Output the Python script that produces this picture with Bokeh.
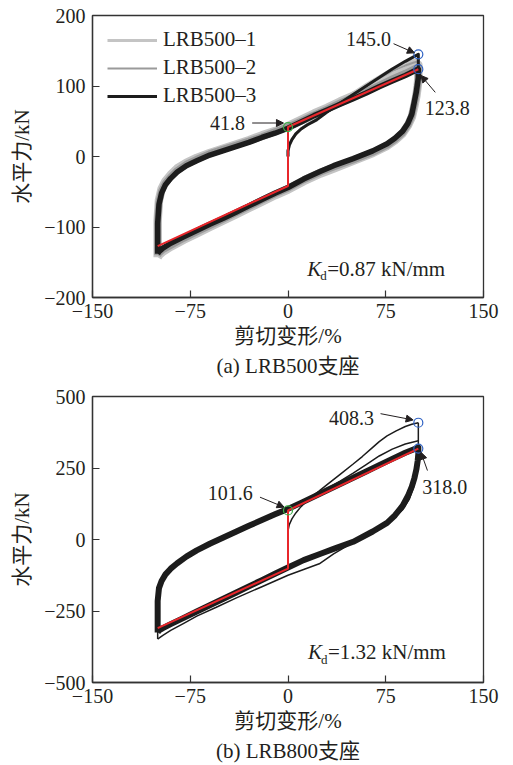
from bokeh.plotting import figure
from bokeh.layouts import column
from bokeh.models import (Range1d, FixedTicker, Legend, LegendItem, Label, Arrow,
                          NormalHead, Title)
from bokeh.embed import file_html
from bokeh.resources import INLINE

# ---------------- data ----------------
# shear strain (%) sampled along the loading (up) and unloading (down) branches
strain_up = [-100, -100, -99, -97, -94, -90, -85, -78, -70, -60, -50, -40, -30,
             -20, -10, 0, 10, 20, 30, 40, 50, 60, 70, 80, 90, 100]
strain_down = [100, 100, 99.5, 98.5, 97, 95, 92, 88, 82, 76, 65, 50, 35, 25, 12,
               0, -10, -20, -30, -40, -50, -60, -70, -80, -90, -96, -99, -100]

# LRB500 specimens, horizontal force (kN), stabilised loop
lrb500_1_up = [-143, -90, -62, -46, -35, -26, -17, -9, -2, 5, 11, 17, 23, 30, 36,
               43, 52, 61, 69, 78, 86, 95, 104, 113, 121, 130]
lrb500_1_down = [130, 110, 100, 86, 72, 56, 44, 33, 23, 15, 5, -6, -17, -24, -35,
                 -47, -55, -64, -73, -82, -91, -100, -109, -118, -128, -135, -140, -143]
lrb500_2_up = [-140, -92, -65, -49, -38, -29, -20, -11, -4, 4, 10, 16, 22, 28, 35,
               42, 50, 59, 67, 76, 84, 92, 101, 110, 118, 127]
lrb500_2_down = [127, 111, 102, 89, 75, 58, 45, 34, 24, 16, 6, -5, -15, -22, -33,
                 -45, -53, -62, -71, -80, -89, -98, -107, -116, -126, -132, -137, -140]
lrb500_3_up = [-138, -95, -68, -52, -40, -31, -22, -13, -6, 2, 8, 14, 20, 27, 33,
               40, 49, 58, 66, 74, 82, 90, 99, 107, 115, 124]
lrb500_3_down = [124, 112, 105, 92, 78, 60, 47, 36, 26, 18, 8, -3, -13, -21, -32,
                 -44, -52, -61, -70, -79, -88, -96, -105, -114, -123, -130, -135, -138]

# LRB500 first cycle of each specimen (virgin loading up to the first peak)
first_x = [0, 0, 1, 3, 6, 10, 15, 22, 30, 40, 50, 60, 70, 80, 90, 96, 100, 100]
lrb500_1_first = [0, 8, 16, 24, 32, 39, 46, 54, 65, 78, 90, 102, 113, 124, 132, 136,
                  138, 130]
lrb500_2_first = [0, 8, 16, 24, 32, 39, 45, 53, 64, 77, 89, 100, 111, 121, 129, 133,
                  135, 127]
lrb500_3_first = [0, 8, 16, 24, 32, 39, 45, 52, 63, 76, 88, 100, 112, 124, 135, 141,
                  145.0, 122]

lrb500_peak_first = 145.0
lrb500_peak_stable = 123.8
lrb500_qd = 41.8
lrb500_kd = 0.87

# LRB800 specimen, horizontal force (kN), stabilised loop
lrb800_up = [-325, -215, -170, -145, -122, -102, -83, -60, -38, -15, 6, 27, 48, 68,
             88, 107, 128, 150, 172, 194, 216, 238, 260, 282, 303, 322]
lrb800_down = [322, 300, 275, 245, 215, 185, 152, 118, 84, 58, 28, -8, -33, -50, -72,
               -98, -120, -142, -164, -186, -208, -230, -252, -274, -296, -310, -318, -325]

# LRB800 first cycle: virgin loading and first peak
lrb800_first_x = [0, 0, 1, 3, 6, 10, 16, 24, 30, 40, 50, 57, 65, 70, 76, 83, 90, 95, 100]
lrb800_first_f = [0, 30, 52, 72, 93, 115, 142, 170, 192, 228, 264, 290, 322, 342, 362,
                  380, 395, 403, 408.3]
# first unloading branch (outer envelope)
lrb800_first_down_x = [100, 100, 99.5, 99, 98, 96, 93, 88, 80, 70, 60, 50, 35, 24, 12,
                       0, -20, -40, -55, -70, -80, -90, -96, -99, -100]
lrb800_first_down_f = [408.3, 330, 290, 255, 215, 178, 140, 104, 70, 45, 20, -10, -50,
                       -85, -105, -125, -165, -205, -237, -268, -293, -318, -335, -345, -348]
# second loading branch
lrb800_second_up = [-348, -220, -172, -146, -123, -103, -84, -61, -39, -16, 5, 26, 47,
                    67, 87, 107, 129, 152, 178, 204, 232, 262, 292, 316, 334, 345]

lrb800_peak_first = 408.3
lrb800_peak_stable = 318.0
lrb800_qd = 101.6
lrb800_kd = 1.32

# bilinear model (red)
bilinear_x = [-100, 0, 0, 100]
lrb500_bilinear = [-127.0, -lrb500_qd, lrb500_qd, lrb500_peak_stable]
lrb800_bilinear = [-310.0, -lrb800_qd, lrb800_qd, lrb800_peak_stable]

x_ticks = [-150, -75, 0, 75, 150]
x_tick_labels = ["\u2212150", "\u221275", "0", "75", "150"]
y500_ticks = [-200, -100, 0, 100, 200]
y500_tick_labels = ["\u2212200", "\u2212100", "0", "100", "200"]
y800_ticks = [-500, -250, 0, 250, 500]
y800_tick_labels = ["\u2212500", "\u2212250", "0", "250", "500"]

# ---------------- styling ----------------
SERIF = "Liberation Serif, Noto Sans CJK SC"
INK = "#231f20"
RED = "#e8262b"
BLUE = "#2f62c4"
GREEN = "#3dae48"
C_LIGHT = "#c4c4c4"
C_MID = "#9a9a9a"
C_DARK = "#1c1c1c"


def make_axes(p, xt, xl, yt, yl, caption):
    p.xaxis.ticker = FixedTicker(ticks=xt)
    p.yaxis.ticker = FixedTicker(ticks=yt)
    p.xaxis.major_label_overrides = dict(zip(xt, xl))
    p.yaxis.major_label_overrides = dict(zip(yt, yl))
    for ax in (p.xaxis[0], p.yaxis[0]):
        ax.major_tick_in = 7
        ax.major_tick_out = 0
        ax.minor_tick_line_color = None
        ax.axis_line_color = "#333333"
        ax.axis_line_width = 1.3
        ax.major_tick_line_color = "#333333"
        ax.major_tick_line_width = 1.2
        ax.major_label_text_font = SERIF
        ax.major_label_text_font_size = "20px"
        ax.major_label_text_color = INK
        ax.axis_label_text_font = SERIF
        ax.axis_label_text_font_size = "21px"
        ax.axis_label_text_font_style = "normal"
        ax.axis_label_text_color = INK
    p.xaxis.major_label_standoff = 6
    p.yaxis.major_label_standoff = 7
    p.xaxis.axis_label = "剪切变形/%"
    p.yaxis.axis_label = "水平力/kN"
    p.xaxis.axis_label_standoff = 3
    p.yaxis.axis_label_standoff = 7
    p.xgrid.grid_line_color = None
    p.ygrid.grid_line_color = None
    p.outline_line_color = "#333333"
    p.outline_line_width = 1.3
    cap = Title(text=caption, align="center", text_font=SERIF, text_font_size="21px",
                text_font_style="normal", text_color=INK, standoff=2)
    p.add_layout(cap, "below")


def annotate(p, text, tx, ty, align, ax0, ay0, ax1, ay1):
    p.add_layout(Label(x=tx, y=ty, text=text, text_align=align, text_baseline="middle",
                       text_font="Liberation Serif", text_font_size="20px",
                       text_color=INK))
    p.add_layout(Arrow(x_start=ax0, y_start=ay0, x_end=ax1, y_end=ay1,
                       line_color=INK, line_width=1,
                       end=NormalHead(size=7, fill_color=INK, line_color=INK)))


def kd_label(p, x, y, kd):
    common = dict(text_font="Liberation Serif", text_color=INK, text_baseline="alphabetic")
    p.add_layout(Label(x=x, y=y, text="K", text_font_size="21px",
                       text_font_style="italic", **common))
    p.add_layout(Label(x=x, y=y, x_offset=13, y_offset=-7, text="d",
                       text_font_size="13px", **common))
    p.add_layout(Label(x=x, y=y, x_offset=20, text=f"={kd:.2f} kN/mm",
                       text_font_size="21px", **common))


# ---------------- (a) LRB500 ----------------
p1 = figure(width=513, height=380, output_backend="svg", toolbar_location=None,
            x_range=Range1d(-150, 150), y_range=Range1d(-200, 200),
            min_border_left=92, min_border_right=30, min_border_top=15,
            min_border_bottom=83, background_fill_color="white",
            border_fill_color="white")
make_axes(p1, x_ticks, x_tick_labels, y500_ticks, y500_tick_labels, "(a) LRB500支座")

p1.line(strain_up + strain_down, lrb500_1_up + lrb500_1_down, line_color=C_LIGHT,
        line_width=8.5, line_join="round")
first1 = p1.line(first_x, lrb500_1_first, line_color=C_LIGHT, line_width=3,
                 line_join="round")
p1.line(strain_up + strain_down, lrb500_2_up + lrb500_2_down, line_color=C_MID,
        line_width=7, line_join="round")
first2 = p1.line(first_x, lrb500_2_first, line_color=C_MID, line_width=2,
                 line_join="round")
p1.line(strain_up + strain_down, lrb500_3_up + lrb500_3_down, line_color=C_DARK,
        line_width=5.5, line_join="round")
first3 = p1.line(first_x, lrb500_3_first, line_color=C_DARK, line_width=3,
                 line_join="round")
p1.line(bilinear_x, lrb500_bilinear, line_color=RED, line_width=2)
p1.scatter([0], [lrb500_qd], marker="circle", size=9, fill_color=None,
           line_color=GREEN, line_width=1.2)
p1.scatter([100, 100], [lrb500_peak_first, lrb500_peak_stable], marker="circle",
           size=9, fill_color=None, line_color=BLUE, line_width=1.2)

legend = Legend(items=[LegendItem(label="LRB500\u20131", renderers=[first1]),
                       LegendItem(label="LRB500\u20132", renderers=[first2]),
                       LegendItem(label="LRB500\u20133", renderers=[first3])],
                location=(15, 189), glyph_width=50, glyph_height=20, label_height=20,
                label_standoff=6, spacing=3, padding=0, margin=0,
                border_line_color=None, background_fill_alpha=0,
                label_text_font="Liberation Serif", label_text_font_size="21px",
                label_text_color=INK)
p1.add_layout(legend)

annotate(p1, f"{lrb500_peak_first:.1f}", 79, 167, "right", 81, 160, 97, 147)
annotate(p1, f"{lrb500_peak_stable:.1f}", 105, 69, "left", 113, 91, 102, 115)
annotate(p1, f"{lrb500_qd:.1f}", -33, 47.5, "right", -27.5, 47.5, -3.5, 47.5)
kd_label(p1, 14.7, -159, lrb500_kd)

# ---------------- (b) LRB800 ----------------
p2 = figure(width=513, height=385, output_backend="svg", toolbar_location=None,
            x_range=Range1d(-150, 150), y_range=Range1d(-500, 500),
            min_border_left=92, min_border_right=28, min_border_top=16,
            min_border_bottom=83, background_fill_color="white",
            border_fill_color="white")
make_axes(p2, x_ticks, x_tick_labels, y800_ticks, y800_tick_labels, "(b) LRB800支座")

p2.line(lrb800_first_x, lrb800_first_f, line_color=C_DARK, line_width=1.5)
p2.line(lrb800_first_down_x, lrb800_first_down_f, line_color=C_DARK, line_width=1.5)
p2.line(strain_up, lrb800_second_up, line_color=C_DARK, line_width=1.5)
p2.line(strain_up + strain_down, lrb800_up + lrb800_down, line_color=C_DARK,
        line_width=6, line_join="round")
p2.line(bilinear_x, lrb800_bilinear, line_color=RED, line_width=2)
p2.scatter([0], [lrb800_qd], marker="circle", size=9, fill_color=None,
           line_color=GREEN, line_width=1.2)
p2.scatter([100, 100], [lrb800_peak_first, lrb800_peak_stable], marker="circle",
           size=9, fill_color=None, line_color=BLUE, line_width=1.2)

annotate(p2, f"{lrb800_peak_first:.1f}", 66, 425, "right", 71, 440, 96, 418)
annotate(p2, f"{lrb800_peak_stable:.1f}", 103, 184, "left", 107, 241, 102, 305)
annotate(p2, f"{lrb800_qd:.1f}", -27, 163, "right", -21.5, 148, -3, 113)
kd_label(p2, 15.3, -394, lrb800_kd)

layout = column(p1, p2, spacing=0)
open("out.html", "w").write(file_html(layout, INLINE))
